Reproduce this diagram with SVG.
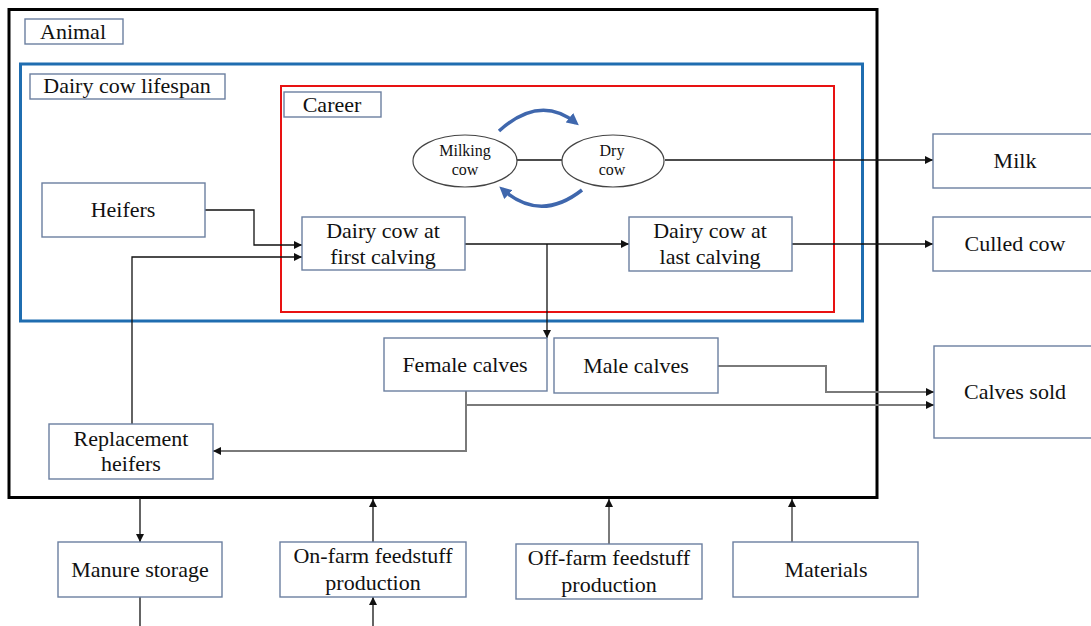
<svg xmlns="http://www.w3.org/2000/svg" width="1091" height="626" viewBox="0 0 1091 626">
<style>
  text { font-family: "Liberation Serif", "Times New Roman", serif; font-size: 22px; fill: #111; text-anchor: middle; }
  .small { font-size: 16px; }
  .box { fill: #fff; stroke: #6b7fa0; stroke-width: 1.4; }
  .conn { fill: none; stroke: #111; stroke-width: 1.3; }
  .gray { fill: none; stroke: #7a7a7a; stroke-width: 2; }
  .cyc { fill: none; stroke: #3f67ad; stroke-width: 3.5; }
</style>
<defs>
  <marker id="arr" viewBox="0 0 10 10" refX="10" refY="5" markerWidth="9" markerHeight="8" markerUnits="userSpaceOnUse" orient="auto">
    <path d="M0,0 L10,5 L0,10 z" fill="#111"/>
  </marker>
  <marker id="arrB" viewBox="0 0 10 10" refX="7" refY="5" markerWidth="12" markerHeight="12" markerUnits="userSpaceOnUse" orient="auto">
    <path d="M0,0 L10,5 L0,10 z" fill="#3f67ad"/>
  </marker>
</defs>
<rect width="1091" height="626" fill="#fff"/>

<g id="animal-system">
  <rect x="9" y="9.5" width="868" height="488" fill="none" stroke="#000" stroke-width="3"/>
  <rect class="box" x="25" y="19" width="98" height="25"/>
  <text x="73" y="39">Animal</text>
</g>
<g id="lifespan">
  <rect x="20.5" y="64" width="842" height="257" fill="none" stroke="#1f6db0" stroke-width="3"/>
  <rect class="box" x="30" y="74" width="195" height="25"/>
  <text x="127" y="93">Dairy cow lifespan</text>
</g>
<g id="career">
  <rect x="281" y="86" width="553" height="226" fill="none" stroke="#e81212" stroke-width="2"/>
  <rect class="box" x="284" y="92" width="97" height="25"/>
  <text x="332" y="112">Career</text>
</g>

<g id="connectors">
  <path class="conn" d="M517,160 H562"/>
  <path class="conn" d="M665,160 H933" marker-end="url(#arr)"/>
  <path class="conn" d="M205,210 H254 V245 H302" marker-end="url(#arr)"/>
  <path class="conn" d="M132,424 V257 H302" marker-end="url(#arr)"/>
  <path class="conn" d="M465,244 H629" marker-end="url(#arr)"/>
  <path class="conn" d="M547,244 V338" marker-end="url(#arr)"/>
  <path class="conn" d="M792,244 H933" marker-end="url(#arr)"/>
  <path class="gray" d="M718,366 H826 V392 H934" marker-end="url(#arr)"/>
  <path class="gray" d="M466,391 V405 H934" marker-end="url(#arr)"/>
  <path class="gray" d="M466,405 V451 H213" marker-end="url(#arr)"/>
  <path class="conn" d="M140,498 V542" marker-end="url(#arr)"/>
  <path class="conn" d="M140,597 V626"/>
  <path class="conn" d="M373,542 V499" marker-end="url(#arr)"/>
  <path class="conn" d="M373,626 V597" marker-end="url(#arr)"/>
  <path class="gray" d="M609,544 V499" marker-end="url(#arr)"/>
  <path class="gray" d="M792,542 V499" marker-end="url(#arr)"/>
  <path class="cyc" d="M499,131 Q540,94 576,123" marker-end="url(#arrB)"/>
  <path class="cyc" d="M582,190 Q540,223 502,189" marker-end="url(#arrB)"/>
</g>

<g id="milking-cow">
  <ellipse cx="465" cy="161" rx="52" ry="26" fill="#fff" stroke="#444" stroke-width="1.2"/>
  <text class="small" x="465" y="156">Milking</text>
  <text class="small" x="465" y="175">cow</text>
</g>
<g id="dry-cow">
  <ellipse cx="613" cy="161" rx="51" ry="26" fill="#fff" stroke="#444" stroke-width="1.2"/>
  <text class="small" x="612" y="156">Dry</text>
  <text class="small" x="612" y="175">cow</text>
</g>
<g id="heifers">
  <rect class="box" x="42" y="183" width="163" height="54"/>
  <text x="123" y="217">Heifers</text>
</g>
<g id="first-calving">
  <rect class="box" x="302" y="217" width="163" height="53"/>
  <text x="383" y="238">Dairy cow at</text>
  <text x="383" y="264">first calving</text>
</g>
<g id="last-calving">
  <rect class="box" x="629" y="217" width="163" height="54"/>
  <text x="710" y="238">Dairy cow at</text>
  <text x="710" y="264">last calving</text>
</g>
<g id="female-calves">
  <rect class="box" x="384" y="338" width="163" height="53"/>
  <text x="465" y="372">Female calves</text>
</g>
<g id="male-calves">
  <rect class="box" x="554" y="338" width="164" height="55"/>
  <text x="636" y="373">Male calves</text>
</g>
<g id="replacement-heifers">
  <rect class="box" x="49" y="424" width="164" height="55"/>
  <text x="131" y="446">Replacement</text>
  <text x="131" y="471">heifers</text>
</g>
<g id="milk">
  <rect class="box" x="933" y="134" width="166" height="54"/>
  <text x="1015" y="168">Milk</text>
</g>
<g id="culled-cow">
  <rect class="box" x="933" y="217" width="166" height="54"/>
  <text x="1015" y="251">Culled cow</text>
</g>
<g id="calves-sold">
  <rect class="box" x="934" y="346" width="166" height="92"/>
  <text x="1015" y="399">Calves sold</text>
</g>
<g id="manure-storage">
  <rect class="box" x="58" y="542" width="164" height="55"/>
  <text x="140" y="577">Manure storage</text>
</g>
<g id="on-farm-feedstuff">
  <rect class="box" x="280" y="542" width="186" height="55"/>
  <text x="373" y="563">On-farm feedstuff</text>
  <text x="373" y="590">production</text>
</g>
<g id="off-farm-feedstuff">
  <rect class="box" x="516" y="544" width="186" height="55"/>
  <text x="609" y="565">Off-farm feedstuff</text>
  <text x="609" y="592">production</text>
</g>
<g id="materials">
  <rect class="box" x="733" y="542" width="185" height="55"/>
  <text x="826" y="577">Materials</text>
</g>
</svg>
